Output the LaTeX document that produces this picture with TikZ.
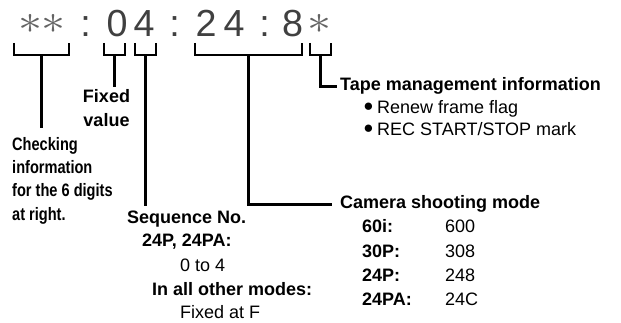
\documentclass[tikz,border=0pt]{standalone}
\usepackage{fontspec}
\setmainfont{Liberation Sans}
\newfontfamily\narrowfont{Liberation Sans}[FakeStretch=0.81]
\definecolor{digitgray}{RGB}{64,64,64}
\definecolor{stargray}{RGB}{100,100,100}
\begin{document}
\begin{tikzpicture}[x=1pt,y=-1pt,
  digit/.style={anchor=base,inner sep=0pt,text=digitgray,font=\fontsize{37.7}{40}\selectfont},
  star/.style={inner sep=0pt,text=stargray},
  lbl/.style={anchor=base west,inner sep=0pt,font=\fontsize{18}{24}\selectfont\bfseries},
  txt/.style={anchor=base west,inner sep=0pt,font=\fontsize{18}{24}\selectfont},
  nlbl/.style={anchor=base west,inner sep=0pt,font=\fontsize{18}{24}\selectfont\narrowfont\bfseries},
  bul/.style={inner sep=0pt,font=\fontsize{17}{17}\selectfont},
  bracket/.style={line width=2.7pt,line join=miter},
  lead/.style={line width=2.7pt}]

\useasboundingbox (0,0) rectangle (621,323);

% code line
\node[star] (s1) at (31,24) {\scalebox{4.8}[4.1]{$\ast$}};
\node[star] (s2) at (53,24) {\scalebox{4.8}[4.1]{$\ast$}};
\node[digit] (c1) at (85.5,37) {:};
\node[digit] (d0) at (117,37) {0};
\node[digit] (d4a) at (144,37) {4};
\node[digit] (c2) at (174.5,37) {:};
\node[digit] (d2) at (206,37) {2};
\node[digit] (d4b) at (234,37) {4};
\node[digit] (c3) at (264.5,37) {:};
\node[digit] (d8) at (292.5,37) {8};
\node[star] (s3) at (319,24) {\scalebox{4.8}[4.1]{$\ast$}};

% brackets
\draw[bracket] (14,43) |- (69,55) -- (69,43);
\draw[bracket] (104,43) |- (125,55) -- (125,43);
\draw[bracket] (135,43) |- (156,55) -- (156,43);
\draw[bracket] (195,43) |- (302,55) -- (302,43);
\draw[bracket] (310,43) |- (331,55) -- (331,43);
\coordinate (b1) at (41.5,55);
\coordinate (b2) at (114.5,55);
\coordinate (b3) at (145.5,55);
\coordinate (b4) at (248.5,55);
\coordinate (b5) at (320.5,55);

% labels
\node[nlbl] (chk1) at (12,151) {Checking};
\node[nlbl] (chk2) at (12,174) {information};
\node[nlbl] (chk3) at (12,197) {for the 6 digits};
\node[nlbl] (chk4) at (12,221) {at right.};

\node[lbl,anchor=base] (fix1) at (106.5,103) {Fixed};
\node[lbl,anchor=base] (fix2) at (106.5,127) {value};

\node[lbl] (seq) at (127,223) {Sequence No.};
\node[lbl] (seqa) at (142,247) {24P, 24PA:};
\node[txt] (seqb) at (180,271) {0 to 4};
\node[lbl] (seqc) at (152,295) {In all other modes:};
\node[txt] (seqd) at (180,318) {Fixed at F};

\node[lbl] (cam) at (340,209) {Camera shooting mode};
\node[lbl] (m1) at (362,233) {60i:};
\node[txt] (v1) at (445,233) {600};
\node[lbl] (m2) at (362,257) {30P:};
\node[txt] (v2) at (445,257) {308};
\node[lbl] (m3) at (362,281) {24P:};
\node[txt] (v3) at (445,281) {248};
\node[lbl] (m4) at (362,305) {24PA:};
\node[txt] (v4) at (445,305) {24C};

\node[lbl] (tape) at (340,91) {Tape management information};
\node[bul] (bu1) at (368.5,107) {●};
\node[txt] (r1) at (377,114) {Renew frame flag};
\node[bul] (bu2) at (368.5,129) {●};
\node[txt] (r2) at (377,136) {REC START/STOP mark};

% leaders
\draw[lead,shorten >=10pt] (b1) -- (b1 |- chk1.north);
\draw[lead,shorten >=3pt] (b2) -- (b2 |- fix1.north);
\draw[lead,shorten >=4pt] (b3) -- (b3 |- seq.north);
\draw[lead,shorten >=8pt] (b4) |- (cam.west);
\draw[lead,shorten >=3pt] (b5) |- (tape.west);
\end{tikzpicture}
\end{document}
